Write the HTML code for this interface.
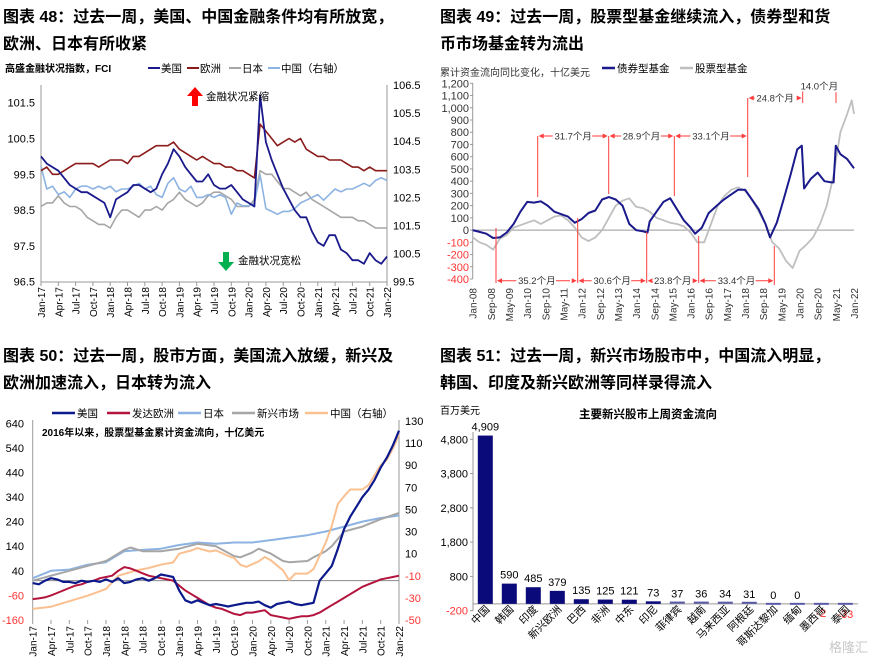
<!DOCTYPE html>
<html><head><meta charset="utf-8">
<style>
html,body{margin:0;padding:0;background:#fff;}
body{width:873px;height:659px;overflow:hidden;position:relative;font-family:"Liberation Sans","Noto Sans CJK SC",sans-serif;}
.t{position:absolute;font-weight:bold;font-size:16px;color:#000;white-space:nowrap;letter-spacing:0px;line-height:27px;}
svg text{font-family:"Liberation Sans","Noto Sans CJK SC",sans-serif;}
</style></head>
<body>
<div class="t" style="left:3px;top:4px;">图表 48：过去一周，美国、中国金融条件均有所放宽，<br>欧洲、日本有所收紧</div>
<div class="t" style="left:440px;top:4px;">图表 49：过去一周，股票型基金继续流入，债券型和货<br>币市场基金转为流出</div>
<div class="t" style="left:3px;top:343px;">图表 50：过去一周，股市方面，美国流入放缓，新兴及<br>欧洲加速流入，日本转为流入</div>
<div class="t" style="left:440px;top:343px;">图表 51：过去一周，新兴市场股市中，中国流入明显，<br>韩国、印度及新兴欧洲等同样录得流入</div>
<svg id="s" width="873" height="659" style="position:absolute;left:0;top:0" xmlns="http://www.w3.org/2000/svg"></svg>
<script>
// ===== Chart 48 data (monthly, Jan-17 .. Jan-22) =====
const c1Ticks = ["Jan-17","Apr-17","Jul-17","Oct-17","Jan-18","Apr-18","Jul-18","Oct-18","Jan-19","Apr-19","Jul-19","Oct-19","Jan-20","Apr-20","Jul-20","Oct-20","Jan-21","Apr-21","Jul-21","Oct-21","Jan-22"];
const c1LeftTicks = [96.5,97.5,98.5,99.5,100.5,101.5];
const c1RightTicks = [99.5,100.5,101.5,102.5,103.5,104.5,105.5,106.5];
const c1US = [100.0,99.8,99.7,99.6,99.4,99.2,99.1,99.0,99.0,98.9,98.8,98.7,98.3,98.8,98.9,99.0,99.2,99.2,99.1,99.0,99.1,99.5,99.8,100.2,100.0,99.7,99.5,99.3,99.3,99.5,99.2,99.1,99.1,99.2,99.0,98.8,98.7,98.6,101.7,100.4,99.9,99.5,99.1,98.8,98.5,98.3,98.3,97.9,97.6,97.5,97.8,97.8,97.4,97.3,97.1,97.1,97.0,97.3,97.1,97.0,97.2];
const c1EU = [99.6,99.7,99.5,99.5,99.6,99.7,99.8,99.8,99.8,99.8,99.7,99.8,99.9,99.9,99.9,99.8,100.0,100.0,100.1,100.2,100.3,100.3,100.3,100.4,100.2,100.1,100.0,99.9,100.0,99.9,99.8,99.8,99.7,99.7,99.6,99.6,99.5,99.4,100.9,100.7,100.5,100.3,100.4,100.5,100.4,100.5,100.2,100.1,100.0,100.0,99.9,99.9,99.9,99.8,99.7,99.7,99.6,99.7,99.6,99.6,99.6];
const c1JP = [98.6,98.7,98.7,98.9,98.7,98.6,98.6,98.5,98.3,98.2,98.1,98.1,98.0,98.3,98.5,98.5,98.4,98.3,98.5,98.5,98.6,98.5,98.7,98.8,99.0,98.8,98.7,98.6,98.7,98.9,99.0,99.0,98.9,98.8,98.6,98.6,98.6,98.8,99.6,99.5,99.5,99.3,99.1,99.1,99.0,98.9,99.0,98.8,98.7,98.6,98.5,98.4,98.3,98.3,98.3,98.2,98.2,98.1,98.0,98.0,98.0];
const c1CN = [103.6,102.8,102.9,102.6,102.7,102.5,102.8,102.9,102.9,102.8,102.9,102.8,102.9,102.7,102.8,102.8,102.9,103.0,102.8,102.9,102.6,102.5,103.0,103.2,102.8,102.7,102.9,102.5,102.5,102.6,102.5,102.6,102.5,101.9,102.3,102.2,102.2,102.3,103.3,102.1,102.0,101.9,102.0,102.0,102.1,102.3,102.4,102.5,102.6,102.4,102.6,102.8,102.7,102.8,102.8,102.9,103.0,102.9,103.1,103.2,103.1];

// ===== Chart 49 data (months since Jan-08) =====
const c2Ticks = ["Jan-08","Sep-08","May-09","Jan-10","Sep-10","May-11","Jan-12","Sep-12","May-13","Jan-14","Sep-14","May-15","Jan-16","Sep-16","May-17","Jan-18","Sep-18","May-19","Jan-20","Sep-20","May-21","Jan-22"];
const c2YTicks = [-400,-300,-200,-100,0,100,200,300,400,500,600,700,800,900,1000,1100,1200];
const c2BondMonths = [0,3,6,9,12,15,18,21,24,27,30,33,36,39,42,45,48,51,54,57,60,63,66,69,72,75,77,78,81,84,87,90,93,96,98,101,104,107,110,113,117,120,123,126,129,131,134,137,140,143,145,146,149,152,155,158,159,160,162,165,168];
const c2Bond = [0,-15,-30,-65,-60,-20,50,150,230,225,235,200,150,130,110,60,90,140,160,250,270,250,200,50,0,-10,-20,70,150,230,260,170,80,20,-30,20,140,190,240,280,330,330,250,170,50,-60,60,250,450,660,690,340,420,470,400,390,390,690,620,580,505];
const c2EqMonths = [0,3,6,9,12,15,18,21,24,27,30,33,36,39,42,45,48,51,54,57,60,63,66,69,72,75,78,81,84,87,90,93,96,99,102,105,108,111,114,117,120,123,126,129,132,135,138,141,144,147,150,153,156,159,162,165,167,168];
const c2Eq = [-60,-100,-120,-160,-70,-40,20,40,60,80,50,80,110,120,80,20,-60,-90,-60,0,100,200,240,260,190,180,150,100,80,60,50,30,-20,-100,-100,50,200,280,330,350,320,250,150,50,-100,-150,-250,-310,-170,-120,-60,50,200,450,800,950,1060,950];

// ===== Chart 50 data (months since Jan-17) =====
const c3Ticks = c1Ticks;
const c3LeftTicks = [-160,-60,40,140,240,340,440,540,640];
const c3RightTicks = [-50,-30,-10,10,30,50,70,90,110,130];
const c3US = [-10,-15,0,10,5,-5,-5,-10,0,-5,0,-5,5,-5,10,-10,-5,5,10,0,10,25,20,15,-40,-80,-90,-80,-90,-100,-95,-100,-105,-100,-95,-90,-90,-85,-100,-110,-95,-90,-85,-95,-100,-95,-90,0,30,60,130,210,260,300,340,370,410,460,500,550,610];
const c3EU = [-75,-72,-68,-60,-50,-40,-30,-20,-15,-5,0,10,15,20,40,55,50,40,30,20,15,10,5,0,-20,-40,-55,-70,-85,-100,-110,-115,-125,-135,-140,-130,-130,-125,-120,-140,-145,-150,-155,-150,-145,-145,-140,-130,-115,-100,-85,-70,-55,-40,-25,-15,-5,5,10,15,20];
const c3JPMonths = [0,3,6,9,12,15,18,21,24,27,30,33,36,39,42,45,48,51,54,57,60];
const c3JP = [10,40,45,65,75,120,125,130,145,155,150,155,155,165,175,185,200,220,240,255,265];
const c3EMMonths = [0,3,6,9,12,13,15,16,18,21,24,27,30,33,34,36,37,39,41,42,45,46,48,49,51,54,57,60];
const c3EM = [0,20,40,60,80,95,125,135,120,120,130,150,140,100,95,115,130,110,80,75,80,95,120,140,200,220,250,275];
const c3CNMonths = [0,3,6,9,12,14,17,19,21,23,24,26,27,29,30,32,33,34,35,37,38,39,41,42,43,45,46,47,48,49,50,51,52,54,55,57,58,59,60];
const c3CN = [-40,-38,-33,-28,-22,-10,-5,-3,0,2,10,13,15,12,13,8,6,0,-2,3,7,4,-5,-14,-8,-8,-4,8,20,35,55,62,68,68,72,90,95,105,118];

// ===== Chart 51 data =====
const c4Cats = ["中国","韩国","印度","新兴欧洲","巴西","非洲","中东","印尼","菲律宾","越南","马来西亚","阿根廷","哥斯达黎加","缅甸","墨西哥","泰国"];
const c4Vals = [4909,590,485,379,135,125,121,73,37,36,34,31,0,0,-2,-33];
const c4Labels = ["4,909","590","485","379","135","125","121","73","37","36","34","31","0","0","-2","-33"];
const c4YTicks = [-200,800,1800,2800,3800,4800];
const c4YLabels = ["-200","800","1,800","2,800","3,800","4,800"];

const NS="http://www.w3.org/2000/svg";
const S=document.getElementById('s');
function mk(tag,attrs,parent){const e=document.createElementNS(NS,tag);for(const k in attrs)e.setAttribute(k,attrs[k]);(parent||S).appendChild(e);return e;}
function txt(x,y,s,size,fill,anchor,extra){const e=mk('text',Object.assign({x:x,y:y,'font-size':size,fill:fill||'#000','text-anchor':anchor||'start'},extra||{}));e.textContent=s;return e;}
function lin(d0,d1,r0,r1){return v=>r0+(v-d0)/(d1-d0)*(r1-r0);}
function path(xs,ys,fx,fy,color,w,g){let d='';for(let i=0;i<ys.length;i++){d+=(i?'L':'M')+fx(xs[i]).toFixed(1)+','+fy(ys[i]).toFixed(1);}return mk('path',{d:d,fill:'none',stroke:color,'stroke-width':w,'stroke-linejoin':'round'},g);}
const idx=n=>Array.from({length:n},(_,i)=>i);

// ---------- Chart 48 ----------
(function(){
  const g=mk('g',{});
  
  
  const X=lin(0,60,41,387), YL=lin(96.5,102,281.7,84.8), YR=lin(99.5,106.5,281.7,85);
  mk('line',{x1:41,y1:85,x2:41,y2:282,stroke:'#999','stroke-width':1},g);
  mk('line',{x1:387,y1:85,x2:387,y2:282,stroke:'#999','stroke-width':1},g);
  mk('line',{x1:41,y1:282,x2:387,y2:282,stroke:'#999','stroke-width':1},g);
  c1LeftTicks.forEach(v=>{const t=txt(35,YL(v)+4,v.toFixed(1),11,'#000','end',{});g.appendChild(t);});
  c1RightTicks.forEach(v=>{const t=txt(393,YR(v)+4,v.toFixed(1),11,'#000','start',{});g.appendChild(t);});
  c1Ticks.forEach((s,i)=>{const x=X(i*3);mk('line',{x1:x,y1:282,x2:x,y2:286,stroke:'#999'},g);const t=txt(0,0,s,10,'#000','end',{transform:`translate(${x+4},${287}) rotate(-90)`});g.appendChild(t);});
  const n=idx(61);
  let p;
  p=path(n,c1JP,X,YL,'#a6a6a6',1.6,g);
  p=path(n,c1CN,X,YR,'#8db3e2',1.6,g);
  p=path(n,c1EU,X,YL,'#8b1a1a',1.6,g);
  p=path(n,c1US,X,YL,'#1a1a8c',1.8,g);
  let t=txt(5,72,'高盛金融状况指数，FCI',10,'#000','start',{'font-weight':'bold'});
  const leg=[['美国','#1a1a8c',148],['欧洲','#8b1a1a',187],['日本','#a6a6a6',229],['中国（右轴）','#8db3e2',268]];
  leg.forEach(l=>{const lg=mk('g',{},g);mk('line',{x1:l[2],y1:68,x2:l[2]+12,y2:68,stroke:l[1],'stroke-width':2},lg);lg.appendChild(txt(l[2]+13,72,l[0],10.5,'#000'));});
  const up=mk('polygon',{points:'195,87 187,96 192,96 192,106 198,106 198,96 203,96',fill:'#ff0000'},g);
  g.appendChild(txt(206,100,'金融状况紧缩',10.5,'#000'));
  const dn=mk('polygon',{points:'226,271 218,262 223,262 223,252 229,252 229,262 234,262',fill:'#00b050'},g);
  g.appendChild(txt(238,264,'金融状况宽松',10.5,'#000'));
})();

// ---------- Chart 49 ----------
(function(){
  const g=mk('g',{});
  
  
  const X=lin(0,168,472.7,854), Y=lin(-400,1200,279,83.3);
  mk('line',{x1:472.7,y1:83,x2:472.7,y2:279,stroke:'#999'},g);
  mk('line',{x1:472.7,y1:Y(0),x2:854,y2:Y(0),stroke:'#999'},g);
  c2YTicks.forEach(v=>{const s=Math.abs(v)>=1000?(v<0?'-':'')+'1,'+String(Math.abs(v)%1000).padStart(3,'0'):String(v);const t=txt(469,Y(v)+4,s,11,v<0?'#ff3333':'#333','end',{'font-family':'Liberation Serif, serif'});g.appendChild(t);mk('line',{x1:470,y1:Y(v),x2:472.7,y2:Y(v),stroke:'#999'},g);});
  c2Ticks.forEach((s,i)=>{const x=X(i*8);const t=txt(0,0,s,10,'#333','end',{'font-family':'Liberation Serif, serif',transform:`translate(${x+4},${288}) rotate(-90)`});g.appendChild(t);});
  let p=path(c2EqMonths,c2Eq,X,Y,'#bfbfbf',1.8,g);
  p=path(c2BondMonths,c2Bond,X,Y,'#1a1a8c',2,g);
  const red='#ff3b3b';
  const ann=mk('g',{},g);
  [[537.7,136,197],[608.7,136,194],[674.3,136,196],[747.7,98,177],[802.7,86,103],[836,86,103]].forEach(a=>mk('line',{x1:a[0],y1:a[1],x2:a[0],y2:a[2],stroke:red,'stroke-width':1},ann));
  [[496,228,283],[577.7,218,283],[646.7,232,283],[698.7,236,283],[774.3,246,285]].forEach(a=>mk('line',{x1:a[0],y1:a[1],x2:a[0],y2:a[2],stroke:red,'stroke-width':1},ann));
  function span(x0,x1,y,label){mk('line',{x1:x0+2,y1:y,x2:x1-2,y2:y,stroke:red,'stroke-width':1,'stroke-dasharray':'22,28'},ann);mk('polygon',{points:`${x0+1},${y} ${x0+6},${y-2.5} ${x0+6},${y+2.5}`,fill:red},ann);mk('polygon',{points:`${x1-1},${y} ${x1-6},${y-2.5} ${x1-6},${y+2.5}`,fill:red},ann);const t=txt((x0+x1)/2,y+3.5,label,9.5,'#333','middle',{'font-family':'Liberation Serif, "Noto Serif CJK SC", serif'});t.setAttribute('stroke','#fff');t.setAttribute('stroke-width','4');t.setAttribute('paint-order','stroke');ann.appendChild(t);}
  span(537.7,608.7,136,'31.7个月');span(608.7,674.3,136,'28.9个月');span(674.3,747.7,136,'33.1个月');
  span(747.7,802.7,98,'24.8个月');span(802.7,836,86,'14.0个月');
  span(496,577.7,280.7,'35.2个月');span(577.7,646.7,280.7,'30.6个月');span(646.7,698.7,280.7,'23.8个月');span(698.7,774.3,280.7,'33.4个月');
  let t=txt(440,76,'累计资金流向同比变化，十亿美元',10,'#333','start',{'font-family':'Liberation Serif, "Noto Serif CJK SC", serif'});
  [['债券型基金','#1a1a8c',602],['股票型基金','#bfbfbf',680]].forEach(l=>{const lg=mk('g',{},g);mk('line',{x1:l[2],y1:68,x2:l[2]+13,y2:68,stroke:l[1],'stroke-width':2.5},lg);lg.appendChild(txt(l[2]+15,72,l[0],10.5,'#000','start',{'font-family':'Liberation Serif, "Noto Serif CJK SC", serif'}));});
})();

// ---------- Chart 50 ----------
(function(){
  const g=mk('g',{});
  
  
  const X=lin(0,60,32.7,399), YL=lin(-160,640,620,423.3), YR=lin(-50,130,620,421);
  mk('line',{x1:32.7,y1:420,x2:32.7,y2:620,stroke:'#999'},g);
  mk('line',{x1:399,y1:420,x2:399,y2:620,stroke:'#999'},g);
  mk('line',{x1:32.7,y1:YL(0),x2:399,y2:YL(0),stroke:'#888'},g);
  c3LeftTicks.forEach(v=>{const t=txt(24,YL(v)+4,String(v),11,v<0?'#ff3333':'#000','end');g.appendChild(t);});
  c3RightTicks.forEach(v=>{const t=txt(405,YR(v)+4,String(v),11,v<0?'#ff3333':'#000','start');g.appendChild(t);});
  c3Ticks.forEach((s,i)=>{const x=X(i*3);mk('line',{x1:x,y1:620,x2:x,y2:624,stroke:'#999'},g);const t=txt(0,0,s,10,'#000','end',{transform:`translate(${x+4},${626}) rotate(-90)`});g.appendChild(t);});
  const n=idx(61);
  let p=path(c3JPMonths,c3JP,X,YL,'#8db3e2',2,g);
  p=path(c3EMMonths,c3EM,X,YL,'#a6a6a6',2,g);
  p=path(c3CNMonths,c3CN,X,YR,'#fac090',2,g);
  p=path(n,c3EU,X,YL,'#b3133c',2,g);
  p=path(n,c3US,X,YL,'#0d1a8c',2.2,g);
  let t=txt(42,436,'2016年以来，股票型基金累计资金流向，十亿美元',10,'#000','start',{'font-weight':'bold'});
  [['美国','#0d1a8c',52],['发达欧洲','#b3133c',107],['日本','#8db3e2',178],['新兴市场','#a6a6a6',232],['中国（右轴）','#fac090',305]].forEach(l=>{const lg=mk('g',{},g);mk('line',{x1:l[2],y1:413,x2:l[2]+23,y2:413,stroke:l[1],'stroke-width':2.5},lg);lg.appendChild(txt(l[2]+25,417,l[0],10.5,'#000'));});
})();

// ---------- Chart 51 ----------
(function(){
  const g=mk('g',{});
  
  
  const Y=lin(-200,4800,610.7,439.3);
  const X=i=>485.3+i*24;
  mk('line',{x1:473,y1:432,x2:473,y2:611,stroke:'#999'},g);
  mk('line',{x1:473,y1:Y(0),x2:858,y2:Y(0),stroke:'#999'},g);
  c4YTicks.forEach((v,i)=>{mk('line',{x1:470,y1:Y(v),x2:473,y2:Y(v),stroke:'#999'},g);const t=txt(468,Y(v)+4,c4YLabels[i],11,v<0?'#ff3333':'#000','end');g.appendChild(t);});
  c4Vals.forEach((v,i)=>{
    const y0=Y(0),y1=Y(v);
    const small=Math.abs(v)<50;
    const r=mk('rect',{x:X(i)-7.5,y:Math.min(y0,y1)-(small?1:0),width:15,height:Math.max(Math.abs(y1-y0),small?2:0),fill:small?'#5a5aa8':'#0a0a7a'},g);
    
    
    const ly=v<0?Y(0)+14:y1-5;
    const t=txt(X(i),v===-2?Y(0)+13:ly,c4Labels[i],11,v<0?'#ff3333':'#000','middle');
    
    
    const c=txt(0,0,c4Cats[i],10.5,'#000','end',{transform:`translate(${X(i)+5},${610}) rotate(-45)`});
    
    
  });
  let t=txt(440,414,'百万美元',10,'#000');
  t=txt(648,418,'主要新兴股市上周资金流向',11.5,'#000','middle',{'font-weight':'bold'});
  t=txt(868,652,'格隆汇',13,'#c8c8c8','end');
})();
</script>
</body></html>
